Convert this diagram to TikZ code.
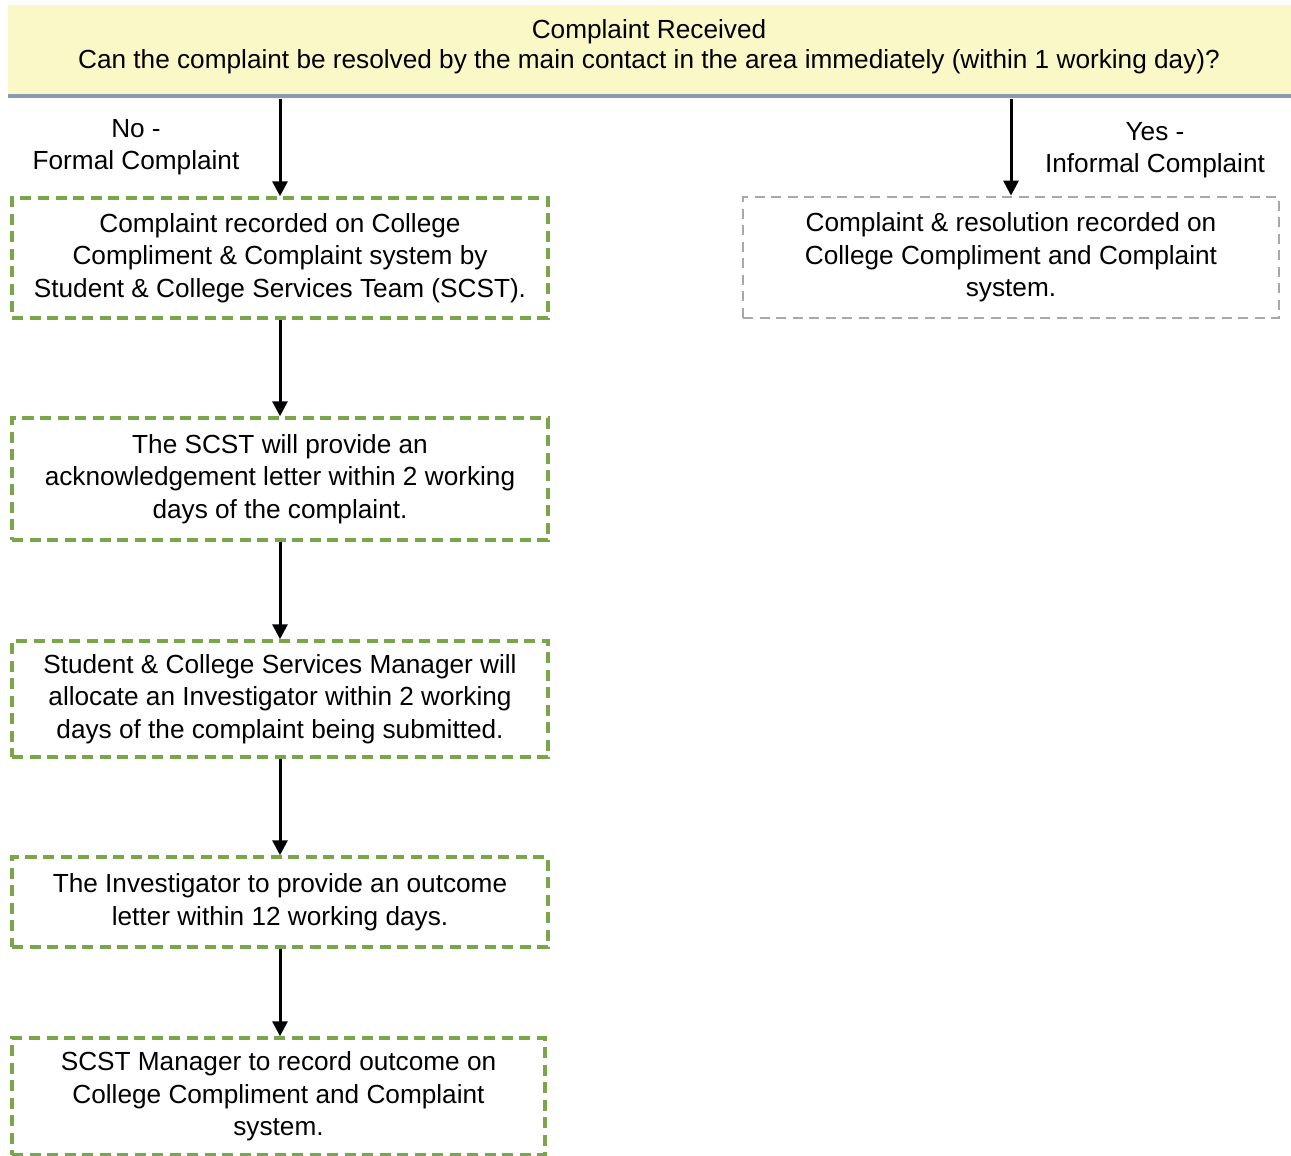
\documentclass[tikz,border=0pt]{standalone}
\usepackage{fontspec}
\setmainfont{Liberation Sans}
\usetikzlibrary{arrows.meta}
\definecolor{bannerfill}{RGB}{250,248,198}
\definecolor{bannerline}{RGB}{140,154,176}
\definecolor{boxgreen}{RGB}{120,166,72}
\definecolor{boxgray}{RGB}{168,168,168}
\tikzset{
  txt/.style={font=\fontsize{26.2}{32.5}\selectfont, align=center, inner sep=0pt},
  gbox/.style={txt, draw=boxgreen, line width=3.5pt, dash pattern=on 11pt off 6.5pt, minimum width=536pt, fill=white},
  ybox/.style={txt, draw=boxgray, line width=2.8pt, dash pattern=on 10pt off 6.5pt, minimum width=536pt, fill=white},
  arr/.style={line width=3pt, -{Triangle[width=15pt,length=15pt]}},
}
\begin{document}
\begin{tikzpicture}[x=1pt,y=-1pt]
\useasboundingbox (0,0) rectangle (1291,1156);
\node[fill=bannerfill, minimum width=1283pt, minimum height=91pt, inner sep=0pt] (banner) at (649.5,50.5) {};
\draw[bannerline, line width=4pt] (banner.south west) -- (banner.south east);
\node[txt] (q) at (649,47) {Complaint Received\\[-2.5pt]Can the complaint be resolved by the main contact in the area immediately (within 1 working day)?};

\node[gbox, minimum height=120pt] (b1) at (280,258) {Complaint recorded on College\\Compliment \& Complaint system by\\Student \& College Services Team (SCST).};
\node[gbox, minimum height=122pt] (b2) at (280,479) {The SCST will provide an\\acknowledgement letter within 2 working\\days of the complaint.};
\node[gbox, minimum height=116pt] (b3) at (280,699) {Student \& College Services Manager will\\allocate an Investigator within 2 working\\days of the complaint being submitted.};
\node[gbox, minimum height=90pt] (b4) at (280,902) {The Investigator to provide an outcome\\letter within 12 working days.};
\node[gbox, minimum width=533pt, minimum height=117pt] (b5) at (278.5,1096.5) {SCST Manager to record outcome on\\College Compliment and Complaint\\system.};
\node[ybox, minimum height=121pt] (r1) at (1011,257.5) {Complaint \& resolution recorded on\\College Compliment and Complaint\\system.};

\node[txt] (no) at (136,147) {No -\\Formal Complaint};
\node[txt] (yes) at (1155,150) {Yes -\\Informal Complaint};

\draw[arr] ([yshift=-3pt]banner.south -| b1.north) -- (b1.north);
\draw[arr] ([yshift=-3pt]banner.south -| r1.north) -- (r1.north);
\draw[arr] (b1) -- (b2);
\draw[arr] (b2) -- (b3);
\draw[arr] (b3) -- (b4);
\draw[arr] (b4.south) -- (b4.south |- b5.north);
\end{tikzpicture}
\end{document}
